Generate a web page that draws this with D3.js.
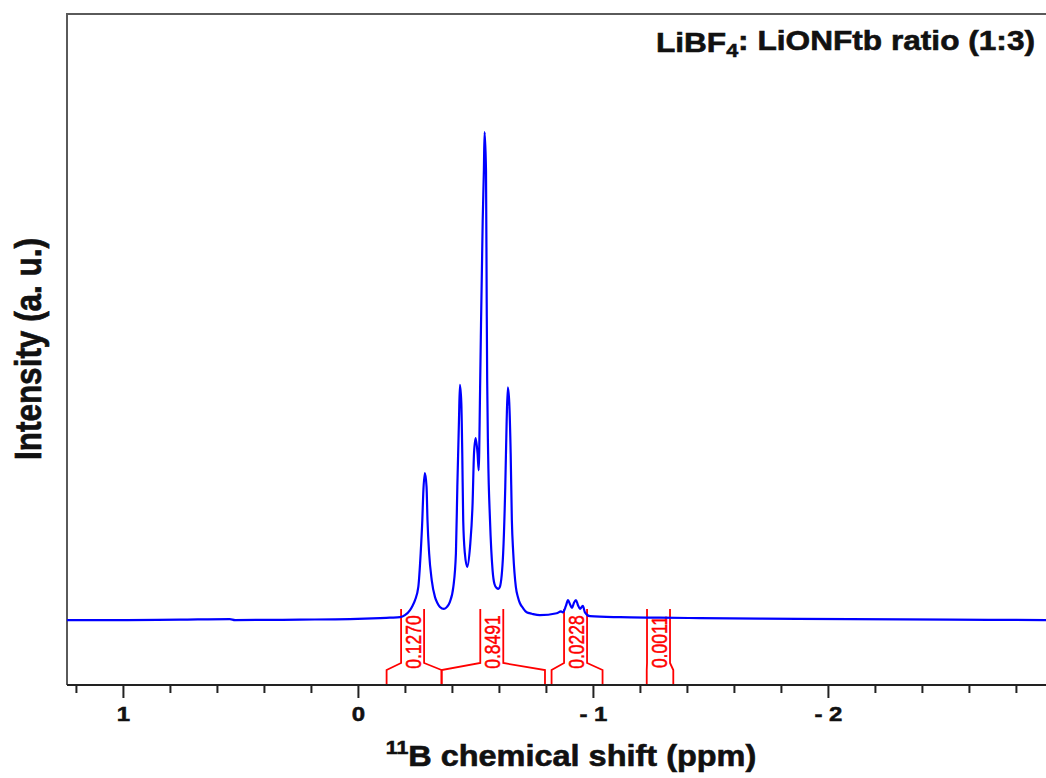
<!DOCTYPE html>
<html>
<head>
<meta charset="utf-8">
<script src="https://cdn.jsdelivr.net/npm/d3@7"></script>
<style>
  body { margin: 0; background: #fff; }
  svg { display: block; font-family: "Liberation Sans", Arial, sans-serif; }
</style>
</head>
<body>
<script>
// 11B NMR spectrum (ppm, intensity in a.u., main peak = 100)
var shift = [1.238, 1.013, 0.757, 0.545, 0.523, 0.247, 0.034, -0.094, -0.136, -0.179,
  -0.200, -0.221, -0.232, -0.243, -0.257, -0.267, -0.274, -0.278, -0.285, -0.292,
  -0.296, -0.303, -0.314, -0.328, -0.338, -0.349, -0.366, -0.379, -0.391, -0.406,
  -0.417, -0.423, -0.430, -0.434, -0.440, -0.444, -0.448, -0.455, -0.465, -0.477,
  -0.488, -0.494, -0.501, -0.509, -0.514, -0.516, -0.519, -0.523, -0.531, -0.536,
  -0.539, -0.545, -0.548, -0.550, -0.554, -0.562, -0.573, -0.581, -0.590, -0.598,
  -0.604, -0.618, -0.627, -0.633, -0.638, -0.644, -0.650, -0.655, -0.661, -0.672,
  -0.681, -0.689, -0.702, -0.718, -0.740, -0.774, -0.846, -0.864, -0.872, -0.885,
  -0.894, -0.902, -0.911, -0.919, -0.928, -0.936, -0.945, -0.957, -0.966, -0.987,
  -1.115, -1.285, -1.455, -1.711, -2.094, -2.519, -2.928];
var intensity = [0, 0, 0.1, 0.2, 0.0, 0.1, 0.2, 0.4, 0.5, 0.6,
  1.0, 2.0, 2.9, 4.1, 6.8, 13.7, 20.5, 26.0, 30.1, 27.3,
  20.5, 13.7, 8.2, 4.7, 3.5, 2.7, 2.3, 2.7, 3.7, 6.8,
  13.7, 27.3, 41.0, 48.2, 44.5, 34.2, 20.5, 13.7, 10.9, 15.0,
  24.0, 34.2, 37.3, 34.2, 30.7, 34.2, 44.5, 58.0, 82.0, 92.2,
  100, 92.2, 65.0, 49.2, 34.2, 20.5, 10.2, 7.4, 6.6, 6.4,
  6.8, 13.7, 27.3, 41.0, 47.7, 44.5, 34.2, 20.5, 13.7, 6.8,
  4.7, 3.5, 2.5, 1.6, 1.3, 1.0, 1.4, 1.8, 1.6, 2.9,
  4.1, 3.3, 2.5, 3.5, 4.1, 3.1, 2.3, 2.9, 1.6, 0.8,
  0.6, 0.5, 0.4, 0.3, 0.2, 0.1, 0];

// integral regions (ppm) and their values
var integralFrom = [-0.122, -0.356, -0.824, -1.229];
var integralTo = [-0.356, -0.796, -1.041, -1.342];
var integralLabels = ["0.1270", "0.8491", "0.0228", "0.0011"];

// axis ticks
var majorTicks = [1, 0, -1, -2];
var minorTicks = [1.2, 0.8, 0.6, 0.4, 0.2, -0.2, -0.4, -0.6, -0.8, -1.2, -1.4, -1.6, -1.8,
  -2.2, -2.4, -2.6, -2.8];

var width = 1046, height = 778;
var plotLeft = 67, plotRight = 1046, plotTop = 14, plotBottom = 685;

var x = d3.scaleLinear().domain([1.238, -2.928]).range([plotLeft, plotRight]);
var y = d3.scaleLinear().domain([-13.3, 124.2]).range([plotBottom, plotTop]);

var svg = d3.select("body").append("svg")
    .attr("width", width)
    .attr("height", height);

// frame (left + top), grey
svg.append("path")
    .attr("d", "M" + plotLeft + "," + plotBottom + "V" + plotTop + "H" + plotRight)
    .attr("fill", "none")
    .attr("stroke", "#5a5a5a")
    .attr("stroke-width", 2);

// integral brackets
var boxHalf = 11.5;
integralLabels.forEach(function(lab, i) {
  var x0 = x(integralFrom[i]), x1 = x(integralTo[i]);
  var cx = (x0 + x1) / 2 - 1.5;
  var b0 = cx - boxHalf, b1 = cx + boxHalf;
  var g = svg.append("g");
  g.append("path")
      .attr("d", "M" + x0 + "," + plotBottom + "V" + (plotBottom - 15) + "L" + b0 + "," + (plotBottom - 22) + "V" + (plotBottom - 76) +
                 "M" + b1 + "," + (plotBottom - 76) + "V" + (plotBottom - 22) + "L" + x1 + "," + (plotBottom - 15) + "V" + plotBottom)
      .attr("fill", "none")
      .attr("stroke", "#ff0000")
      .attr("stroke-width", 1.8);
  g.append("text")
      .attr("transform", "translate(" + (cx + 0.5) + "," + (plotBottom - 43) + ") scale(1.25,1) rotate(-90)")
      .attr("text-anchor", "middle")
      .attr("dy", "0.36em")
      .attr("fill", "#ff0000")
      .attr("stroke", "#ff0000")
      .attr("stroke-width", 0.4)
      .style("font-size", "17.5px")
      .text(lab);
});

// spectrum
var pts = shift.map(function(s, i) { return [s, intensity[i]]; });
var line = d3.line()
    .curve(d3.curveMonotoneX)
    .x(function(d) { return x(d[0]); })
    .y(function(d) { return y(d[1]); });
svg.append("path")
    .datum(pts)
    .attr("d", line)
    .attr("fill", "none")
    .attr("stroke", "#0000ff")
    .attr("stroke-width", 2.2);

// x axis: minor then major ticks
var axisG = svg.append("g").attr("transform", "translate(0," + plotBottom + ")");
axisG.append("g")
    .call(d3.axisBottom(x).tickValues(minorTicks).tickSize(8).tickFormat(""))
    .call(function(g) { g.select(".domain").remove(); });
axisG.append("g")
    .call(d3.axisBottom(x).tickValues(majorTicks).tickSize(13).tickPadding(9)
      .tickFormat(function(d) { return d < 0 ? "- " + Math.abs(d) : d; }))
    .call(function(g) { g.select(".domain").remove(); });
axisG.selectAll(".tick line").attr("stroke", "#222").attr("stroke-width", 2);
axisG.selectAll(".tick text")
    .attr("fill", "#111")
    .attr("stroke", "#111")
    .attr("stroke-width", 0.5)
    .attr("transform", "scale(1.2,1)")
    .style("font-size", "20px")
    .style("font-weight", "bold")
    .style("font-family", "'Liberation Sans', Arial, sans-serif");
axisG.append("line")
    .attr("x1", plotLeft).attr("x2", plotRight)
    .attr("stroke", "#222").attr("stroke-width", 2);

// axis titles
var xt = svg.append("text")
    .attr("transform", "translate(571,762) scale(1.12,1)")
    .attr("text-anchor", "middle")
    .style("font-size", "29px")
    .style("font-weight", "bold")
    .attr("fill", "#111")
    .attr("stroke", "#111")
    .attr("stroke-width", 0.6);
xt.append("tspan").attr("dy", "-0.4em").style("font-size", "19px").text("11");
xt.append("tspan").attr("dy", "0.4em").text("B chemical shift (ppm)");

svg.append("text")
    .attr("transform", "translate(41,349) scale(1.18,1) rotate(-90)")
    .attr("text-anchor", "middle")
    .style("font-size", "31.5px")
    .style("font-weight", "bold")
    .attr("fill", "#111")
    .attr("stroke", "#111")
    .attr("stroke-width", 0.6)
    .text("Intensity (a. u.)");

// title
var tt = svg.append("text")
    .attr("transform", "translate(1035,52) scale(1.13,1)")
    .attr("text-anchor", "end")
    .style("font-size", "28px")
    .style("font-weight", "bold")
    .attr("fill", "#111")
    .attr("stroke", "#111")
    .attr("stroke-width", 0.6);
tt.append("tspan").text("LiBF");
tt.append("tspan").attr("dy", "0.25em").style("font-size", "19px").text("4");
tt.append("tspan").attr("dy", "-0.25em").text(": LiONFtb ratio (1:3)");
</script>
</body>
</html>
